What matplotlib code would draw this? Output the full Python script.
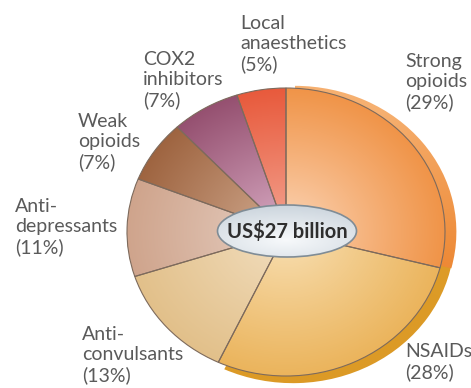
import numpy as np
import matplotlib.pyplot as plt
from matplotlib.colors import to_rgb
from matplotlib.patches import Ellipse

plt.rcParams['font.family'] = ['Lato', 'DejaVu Sans']

# slices, clockwise from 12 o'clock
labels = ["Strong\nopioids\n(29%)", "NSAIDs\n(28%)", "Anti-\nconvulsants\n(13%)",
          "Anti-\ndepressants\n(11%)", "Weak\nopioids\n(7%)", "COX2\ninhibitors\n(7%)",
          "Local\nanaesthetics\n(5%)"]
shares = [29, 28, 13, 11, 7, 7, 5]
total_label = "US$27 billion"

# (centre colour, edge colour) for the radial shading
inner_cols = ["#fcd8bc", "#f9e2b8", "#f3e0c2", "#e8d2c6", "#d4ae94", "#dcb0c8", "#f4a896"]
outer_cols = ["#f09448", "#ebb45c", "#e2c08a", "#cfa48c", "#9e6440", "#955070", "#e85a3c"]
rim_cols = {1: ("#e2a22e", "#dc9a26"), 0: ("#f6b070", "#ea7c22")}

# label anchor (left, top) in pixels
label_px = [(405, 53), (405, 343), (82, 326), (15, 198), (78, 113), (143, 51), (240, 15)]

W, H = 471, 388
cx, cy, rx, ry = 286, 232, 159, 144

fig = plt.figure(figsize=(W / 100, H / 100), dpi=100)
ax = fig.add_axes([0, 0, 1, 1])
xlim = (-cx / rx, (W - cx) / rx)
ylim = ((cy - H) / ry, cy / ry)

gx = np.linspace(xlim[0], xlim[1], 700)
gy = np.linspace(ylim[0], ylim[1], 600)
X, Y = np.meshgrid(gx, gy)

# extruded rims for the two big slices
rim_off = {0: (9 / rx, 0.0), 1: (7 / rx, -5 / ry)}
rim_z = {0: 1.2, 1: 1.0}
for i, (c_top, c_side) in rim_cols.items():
    rw, _ = ax.pie(shares, startangle=90, counterclock=False, radius=1.015,
                   center=rim_off[i], colors=["none"] * len(shares))
    a, b = np.array(to_rgb(c_top)), np.array(to_rgb(c_side))
    s = np.clip(np.arctan2(-Y, X) / (np.pi / 2) + 0.6, 0, 1)[..., None]
    rimg = a[None, None, :] * (1 - s) + b[None, None, :] * s
    for j, w in enumerate(rw):
        if j == i:
            if i == 1:
                w.set_theta2(w.theta2 + 8)
            w.set_edgecolor("none")
            im = ax.imshow(rimg, extent=(*xlim, *ylim), origin="lower", aspect="auto",
                           zorder=rim_z[i], interpolation="bilinear")
            im.set_clip_path(w)
        else:
            w.remove()

wedges, _ = ax.pie(shares, startangle=90, counterclock=False, radius=1,
                   colors=inner_cols,
                   wedgeprops=dict(edgecolor="#7d6a5c", linewidth=0.8))

R = np.clip(np.hypot(X, Y), 0, 1) ** 0.9

for w, ci, co in zip(wedges, inner_cols, outer_cols):
    a, b = np.array(to_rgb(ci)), np.array(to_rgb(co))
    img = a[None, None, :] * (1 - R[..., None]) + b[None, None, :] * R[..., None]
    im = ax.imshow(img, extent=(*xlim, *ylim), origin="lower", aspect="auto",
                   zorder=2, interpolation="bilinear")
    im.set_clip_path(w)
    w.set_facecolor("none")
    w.set_zorder(3)

# centre badge
ew, eh = 139 / rx, 52 / ry
ey = (cy - 231) / ry
badge = Ellipse((1 / rx, ey), ew, eh, facecolor="none", edgecolor="#7f8c96",
                linewidth=1.2, zorder=5)
ax.add_patch(badge)
ry_b = (Y - ey) / (eh / 2)
rx_b = X / (ew / 2)
t = np.clip(np.hypot(rx_b * 0.8, ry_b + 0.35) / 1.3, 0, 1)
top, bot = np.array(to_rgb("#f7f9fb")), np.array(to_rgb("#cdd6de"))
bimg = top[None, None, :] * (1 - t[..., None]) + bot[None, None, :] * t[..., None]
bim = ax.imshow(bimg, extent=(*xlim, *ylim), origin="lower", aspect="auto",
                zorder=4, interpolation="bilinear")
bim.set_clip_path(badge)
ax.text(1 / rx, ey, total_label, ha="center", va="center", fontsize=14.5,
        fontweight="bold", color="#2e2e2e", zorder=6)

for lab, (px, py) in zip(labels, label_px):
    fig.text(px / W, 1 - py / H, lab, ha="left", va="top", fontsize=14,
             color="#5a5a5a", linespacing=1.2)

ax.set_aspect("auto")
ax.set_xlim(*xlim)
ax.set_ylim(*ylim)
ax.axis("off")

fig.savefig("out.png", dpi=100, facecolor="white")
